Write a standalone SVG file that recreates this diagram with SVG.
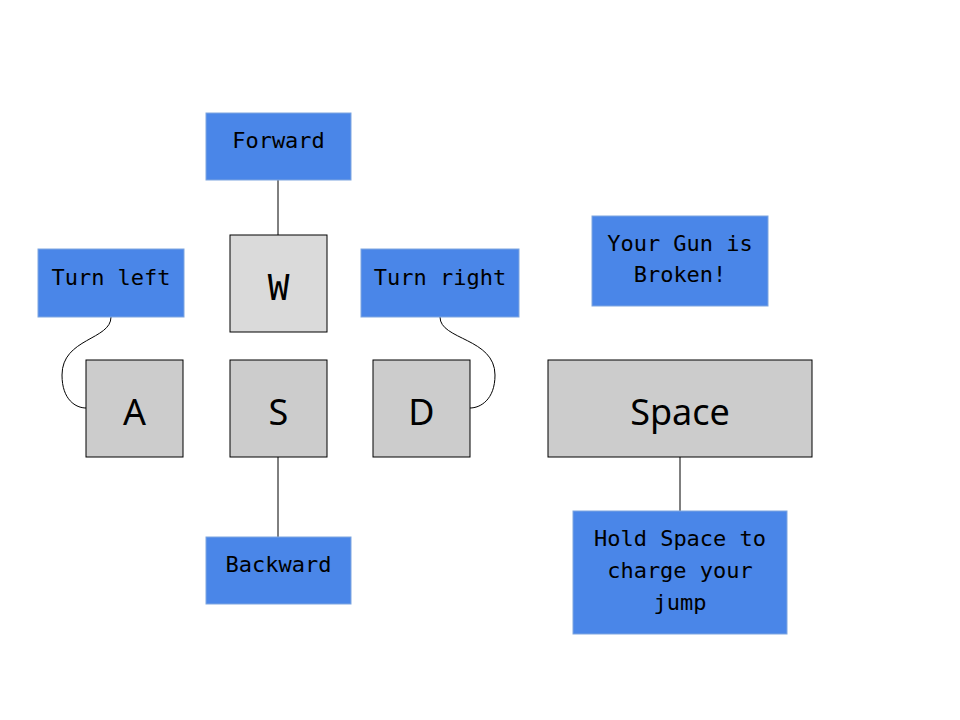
<svg xmlns="http://www.w3.org/2000/svg" width="960" height="720" viewBox="0 0 960 720">
<style>
.lbl rect{fill:#4a86e8;stroke:#7ea6e0;stroke-width:1}
.lbl text{font-family:"DejaVu Sans Mono",monospace;font-size:22px;fill:#000;text-anchor:middle}
.key rect{fill:#cccccc;stroke:#000;stroke-width:1}
.key text{font-family:"Noto Sans",sans-serif;font-size:36px;fill:#000;text-anchor:middle}
.conn path{fill:none;stroke:#000;stroke-width:1}
</style>
<rect width="960" height="720" fill="#fff"/>
<g class="conn">
<path d="M278,180 L278,235"/>
<path d="M278,457 L278,537"/>
<path d="M680,457 L680,511"/>
<path d="M111,317 C111,340 62,338 62,375 C62,400 76,408 86,408"/>
<path d="M440,317 C440,340 495,338 495,375 C495,400 480,408 470,408"/>
</g>
<g id="forward" class="lbl"><rect x="206" y="113" width="145" height="67"/><text x="278.5" y="148">Forward</text></g>
<g id="turnleft" class="lbl"><rect x="38" y="249" width="146" height="68"/><text x="111" y="285">Turn left</text></g>
<g id="turnright" class="lbl"><rect x="361" y="249" width="158" height="68"/><text x="440" y="285">Turn right</text></g>
<g id="gun" class="lbl"><rect x="592" y="216" width="176" height="90"/><text x="680" y="251">Your Gun is</text><text x="680" y="282">Broken!</text></g>
<g id="backward" class="lbl"><rect x="206" y="537" width="145" height="67"/><text x="278.5" y="572">Backward</text></g>
<g id="hold" class="lbl"><rect x="573" y="511" width="214" height="123"/><text x="680" y="546">Hold Space to</text><text x="680" y="578">charge your</text><text x="680" y="610">jump</text></g>
<g id="w" class="key"><rect x="230" y="235" width="97" height="97" style="fill:#dadada"/><text x="278.5" y="300" style="font-family:'DejaVu Sans Mono',monospace">W</text></g>
<g id="a" class="key"><rect x="86" y="360" width="97" height="97"/><text x="134.5" y="425">A</text></g>
<g id="s" class="key"><rect x="230" y="360" width="97" height="97"/><text x="278.5" y="425">S</text></g>
<g id="d" class="key"><rect x="373" y="360" width="97" height="97"/><text x="421.5" y="425">D</text></g>
<g id="space" class="key"><rect x="548" y="360" width="264" height="97"/><text x="680" y="425">Space</text></g>
</svg>
